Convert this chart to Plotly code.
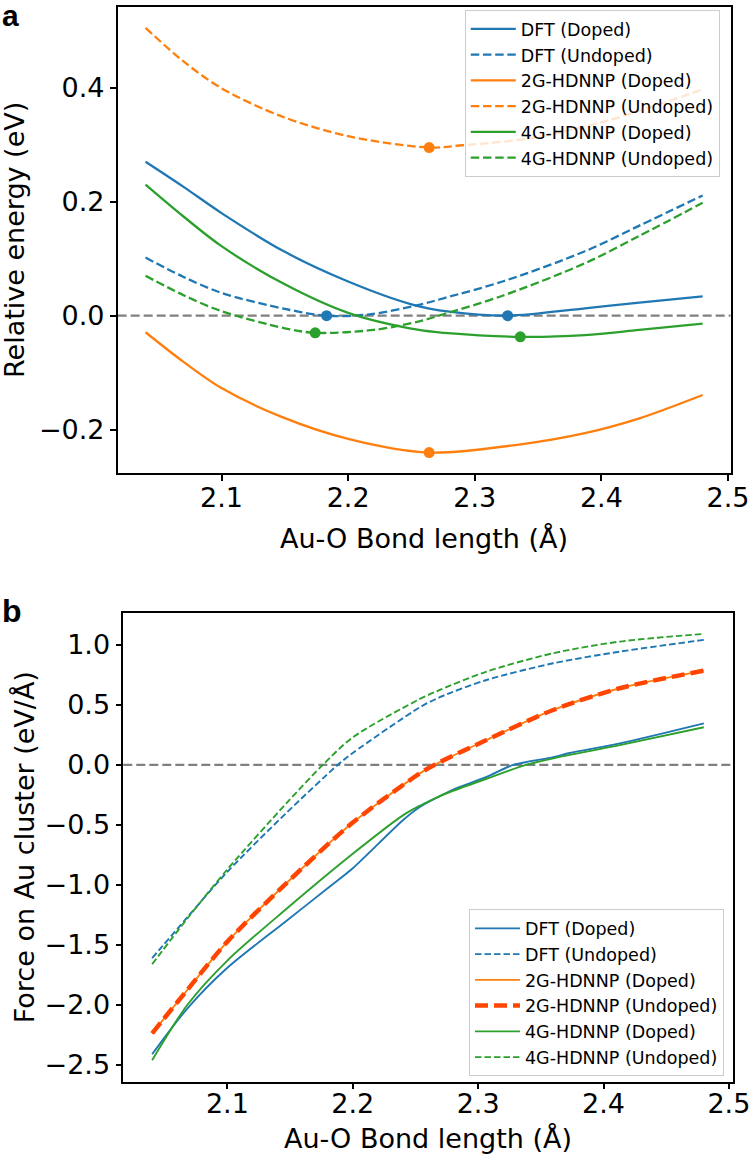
import plotly.graph_objects as go

BLUE, ORANGE, GREEN, RED, GRAY = "#1f77b4", "#ff7f0e", "#2ca02c", "#ff4500", "#808080"
FONT = "DejaVu Sans"

# ---------------- Panel a: relative energy (eV) ----------------
a_dft_doped_x = [2.04, 2.07, 2.10, 2.15, 2.20, 2.25, 2.28, 2.326, 2.387, 2.43, 2.48]
a_dft_doped_y = [0.270, 0.226, 0.180, 0.112, 0.060, 0.020, 0.007, 0.000, 0.013, 0.023, 0.034]

a_dft_undoped_x = [2.04, 2.07, 2.10, 2.15, 2.183, 2.2155, 2.256, 2.276, 2.322, 2.387, 2.43, 2.48]
a_dft_undoped_y = [0.102, 0.068, 0.040, 0.012, 0.000, 0.002, 0.019, 0.031, 0.060, 0.113, 0.158, 0.211]

a_2g_doped_x = [2.04, 2.07, 2.10, 2.147, 2.20, 2.264, 2.335, 2.387, 2.43, 2.48]
a_2g_doped_y = [-0.029, -0.081, -0.127, -0.177, -0.216, -0.240, -0.226, -0.206, -0.180, -0.139]

a_2g_undoped_x = [2.04, 2.07, 2.10, 2.147, 2.20, 2.264, 2.29, 2.343, 2.406, 2.48]
a_2g_undoped_y = [0.505, 0.446, 0.399, 0.350, 0.315, 0.295, 0.299, 0.311, 0.343, 0.397]

a_4g_doped_x = [2.04, 2.07, 2.10, 2.15, 2.20, 2.256, 2.276, 2.336, 2.387, 2.43, 2.48]
a_4g_doped_y = [0.230, 0.174, 0.122, 0.055, 0.005, -0.025, -0.030, -0.037, -0.034, -0.025, -0.014]

a_4g_undoped_x = [2.04, 2.07, 2.10, 2.15, 2.174, 2.22, 2.256, 2.276, 2.322, 2.387, 2.43, 2.48]
a_4g_undoped_y = [0.070, 0.036, 0.008, -0.022, -0.030, -0.025, -0.010, 0.003, 0.035, 0.092, 0.140, 0.198]

# minima markers (bond length, energy) in legend order
a_min_x = [2.326, 2.183, 2.264, 2.264, 2.336, 2.174]
a_min_y = [0.000, 0.000, -0.240, 0.295, -0.037, -0.030]

# ---------------- Panel b: force on Au cluster (eV/Å) ----------------
b_dft_doped_x = [2.04, 2.068, 2.10, 2.147, 2.182, 2.20, 2.24, 2.2535, 2.2695, 2.28, 2.3067, 2.328, 2.36, 2.373, 2.413, 2.48]
b_dft_doped_y = [-2.41, -2.03, -1.69, -1.30, -1.01, -0.86, -0.46, -0.35, -0.26, -0.205, -0.10, 0.0, 0.065, 0.10, 0.18, 0.347]

b_dft_undoped_x = [2.04, 2.068, 2.10, 2.147, 2.188, 2.20, 2.2535, 2.2695, 2.3067, 2.3598, 2.4129, 2.48]
b_dft_undoped_y = [-1.61, -1.27, -0.89, -0.40, 0.0, 0.10, 0.48, 0.565, 0.708, 0.847, 0.944, 1.042]

b_2g_doped_x = [2.04, 2.068, 2.10, 2.147, 2.20, 2.2535, 2.265, 2.3067, 2.3598, 2.4129, 2.48]
b_2g_doped_y = [-2.236, -1.875, -1.472, -0.986, -0.48, -0.07, 0.0, 0.208, 0.458, 0.639, 0.786]

b_2g_undoped_x = [2.04, 2.068, 2.10, 2.147, 2.20, 2.2535, 2.265, 2.3067, 2.3598, 2.4129, 2.48]
b_2g_undoped_y = [-2.236, -1.875, -1.472, -0.986, -0.48, -0.07, 0.0, 0.208, 0.458, 0.639, 0.786]

b_4g_doped_x = [2.04, 2.068, 2.10, 2.147, 2.20, 2.24, 2.2535, 2.2695, 2.28, 2.3067, 2.338, 2.36, 2.413, 2.48]
b_4g_doped_y = [-2.46, -2.00, -1.63, -1.20, -0.74, -0.42, -0.34, -0.26, -0.215, -0.115, 0.0, 0.055, 0.165, 0.314]

b_4g_undoped_x = [2.04, 2.068, 2.10, 2.147, 2.176, 2.20, 2.2535, 2.2695, 2.3067, 2.3598, 2.4129, 2.48]
b_4g_undoped_y = [-1.66, -1.28, -0.87, -0.32, 0.0, 0.23, 0.55, 0.625, 0.778, 0.931, 1.028, 1.092]

labels = ["DFT (Doped)", "DFT (Undoped)", "2G-HDNNP (Doped)",
          "2G-HDNNP (Undoped)", "4G-HDNNP (Doped)", "4G-HDNNP (Undoped)"]

x_ticks = [2.1, 2.2, 2.3, 2.4, 2.5]
x_ticktext = ["2.1", "2.2", "2.3", "2.4", "2.5"]
a_yticks = [-0.2, 0.0, 0.2, 0.4]
a_yticktext = ["\u22120.2", "0.0", "0.2", "0.4"]
b_yticks = [-2.5, -2.0, -1.5, -1.0, -0.5, 0.0, 0.5, 1.0]
b_yticktext = ["\u22122.5", "\u22122.0", "\u22121.5", "\u22121.0", "\u22120.5", "0.0", "0.5", "1.0"]

fig = go.Figure()

# panel a traces
a_series = [
    (a_dft_doped_x, a_dft_doped_y, BLUE, "solid"),
    (a_dft_undoped_x, a_dft_undoped_y, BLUE, "dash"),
    (a_2g_doped_x, a_2g_doped_y, ORANGE, "solid"),
    (a_2g_undoped_x, a_2g_undoped_y, ORANGE, "dash"),
    (a_4g_doped_x, a_4g_doped_y, GREEN, "solid"),
    (a_4g_undoped_x, a_4g_undoped_y, GREEN, "dash"),
]
A_DASH = "8.5px,3.7px"
for (xs, ys, col, st), lab in zip(a_series, labels):
    fig.add_trace(go.Scatter(
        x=xs, y=ys, mode="lines", name=lab, legend="legend",
        line=dict(color=col, width=2.3, dash=(A_DASH if st == "dash" else "solid"),
                  shape="spline", smoothing=0.9),
        xaxis="x", yaxis="y"))

min_colors = [BLUE, BLUE, ORANGE, ORANGE, GREEN, GREEN]
fig.add_trace(go.Scatter(
    x=a_min_x, y=a_min_y, mode="markers", showlegend=False,
    marker=dict(color=min_colors, size=11, line=dict(width=0)),
    xaxis="x", yaxis="y"))

# panel b traces
B_DASH = "6.5px,3px"
b_series = [
    (b_dft_doped_x, b_dft_doped_y, BLUE, "solid", 1.9),
    (b_dft_undoped_x, b_dft_undoped_y, BLUE, B_DASH, 1.9),
    (b_2g_doped_x, b_2g_doped_y, ORANGE, "solid", 1.9),
    (b_2g_undoped_x, b_2g_undoped_y, RED, "13px,6px", 4.5),
    (b_4g_doped_x, b_4g_doped_y, GREEN, "solid", 1.9),
    (b_4g_undoped_x, b_4g_undoped_y, GREEN, B_DASH, 1.9),
]
for (xs, ys, col, st, w), lab in zip(b_series, labels):
    fig.add_trace(go.Scatter(
        x=xs, y=ys, mode="lines", name=lab, legend="legend2",
        line=dict(color=col, width=w, dash=st, shape="spline", smoothing=0.8),
        xaxis="x2", yaxis="y2"))

# zero reference lines
fig.add_shape(type="line", xref="x domain", yref="y", x0=0, x1=1, y0=0, y1=0,
              line=dict(color=GRAY, width=2.2, dash="9px,4px"), layer="below")
fig.add_shape(type="line", xref="x2 domain", yref="y2", x0=0, x1=1, y0=0, y1=0,
              line=dict(color=GRAY, width=2.2, dash="9px,4px"), layer="below")

axis_common = dict(showline=True, linecolor="black", linewidth=1.6, mirror=True,
                   ticks="outside", ticklen=6, tickwidth=1.5, tickcolor="black",
                   showgrid=False, zeroline=False, automargin=False,
                   ticklabeloverflow="allow",
                   tickfont=dict(family=FONT, size=27, color="black"))

fig.update_layout(
    width=750, height=1159,
    margin=dict(l=0, r=0, t=0, b=0),
    paper_bgcolor="white", plot_bgcolor="white",
    font=dict(family=FONT, color="black"),
    xaxis=dict(domain=[0.1569, 0.974], range=[2.018, 2.502], anchor="y",
               tickvals=x_ticks, ticktext=x_ticktext, ticklabelstandoff=-7, **axis_common),
    yaxis=dict(domain=[0.5916, 0.9942], range=[-0.2765, 0.542], anchor="x",
               tickvals=a_yticks, ticktext=a_yticktext, **axis_common),
    xaxis2=dict(domain=[0.1644, 0.9769], range=[2.017, 2.503], anchor="y2",
                tickvals=x_ticks, ticktext=x_ticktext, ticklabelstandoff=-9, **axis_common),
    yaxis2=dict(domain=[0.0667, 0.4714], range=[-2.639, 1.269], anchor="x2",
                tickvals=b_yticks, ticktext=b_yticktext, **axis_common),
    legend=dict(x=0.9597, xanchor="right", y=0.9913, yanchor="top",
                bgcolor="rgba(255,255,255,0.8)", bordercolor="#cccccc", borderwidth=1,
                font=dict(family=FONT, size=17.5, color="black"), itemwidth=45),
    legend2=dict(x=0.9653, xanchor="right", y=0.0712, yanchor="bottom",
                 bgcolor="rgba(255,255,255,0.8)", bordercolor="#cccccc", borderwidth=1,
                 font=dict(family=FONT, size=17.5, color="black"), itemwidth=45),
)

ann_font = dict(family=FONT, size=27, color="black")
fig.add_annotation(text="Relative energy (eV)", xref="paper", yref="paper",
                   x=14 / 750, y=0.7929, textangle=-90, showarrow=False,
                   xanchor="center", yanchor="middle", font=ann_font)
fig.add_annotation(text="Au-O Bond length (Å)", xref="paper", yref="paper",
                   x=0.5655, y=1 - 538 / 1159, showarrow=False,
                   xanchor="center", yanchor="middle", font=ann_font)
fig.add_annotation(text="Force on Au cluster (eV/Å)", xref="paper", yref="paper",
                   x=24 / 750, y=0.269, textangle=-90, showarrow=False,
                   xanchor="center", yanchor="middle", font=ann_font)
fig.add_annotation(text="Au-O Bond length (Å)", xref="paper", yref="paper",
                   x=0.5707, y=1 - 1138 / 1159, showarrow=False,
                   xanchor="center", yanchor="middle", font=ann_font)
fig.add_annotation(text="<b>a</b>", xref="paper", yref="paper", x=0.0, y=1 - 16 / 1159,
                   showarrow=False, xanchor="left", yanchor="middle",
                   font=dict(family="Liberation Sans", size=30, color="black"))
fig.add_annotation(text="<b>b</b>", xref="paper", yref="paper", x=0.0, y=1 - 611 / 1159,
                   showarrow=False, xanchor="left", yanchor="middle",
                   font=dict(family="Liberation Sans", size=32, color="black"))

fig.write_html("out.html", config={"displayModeBar": False},
               post_script="document.body.style.margin='0';")
